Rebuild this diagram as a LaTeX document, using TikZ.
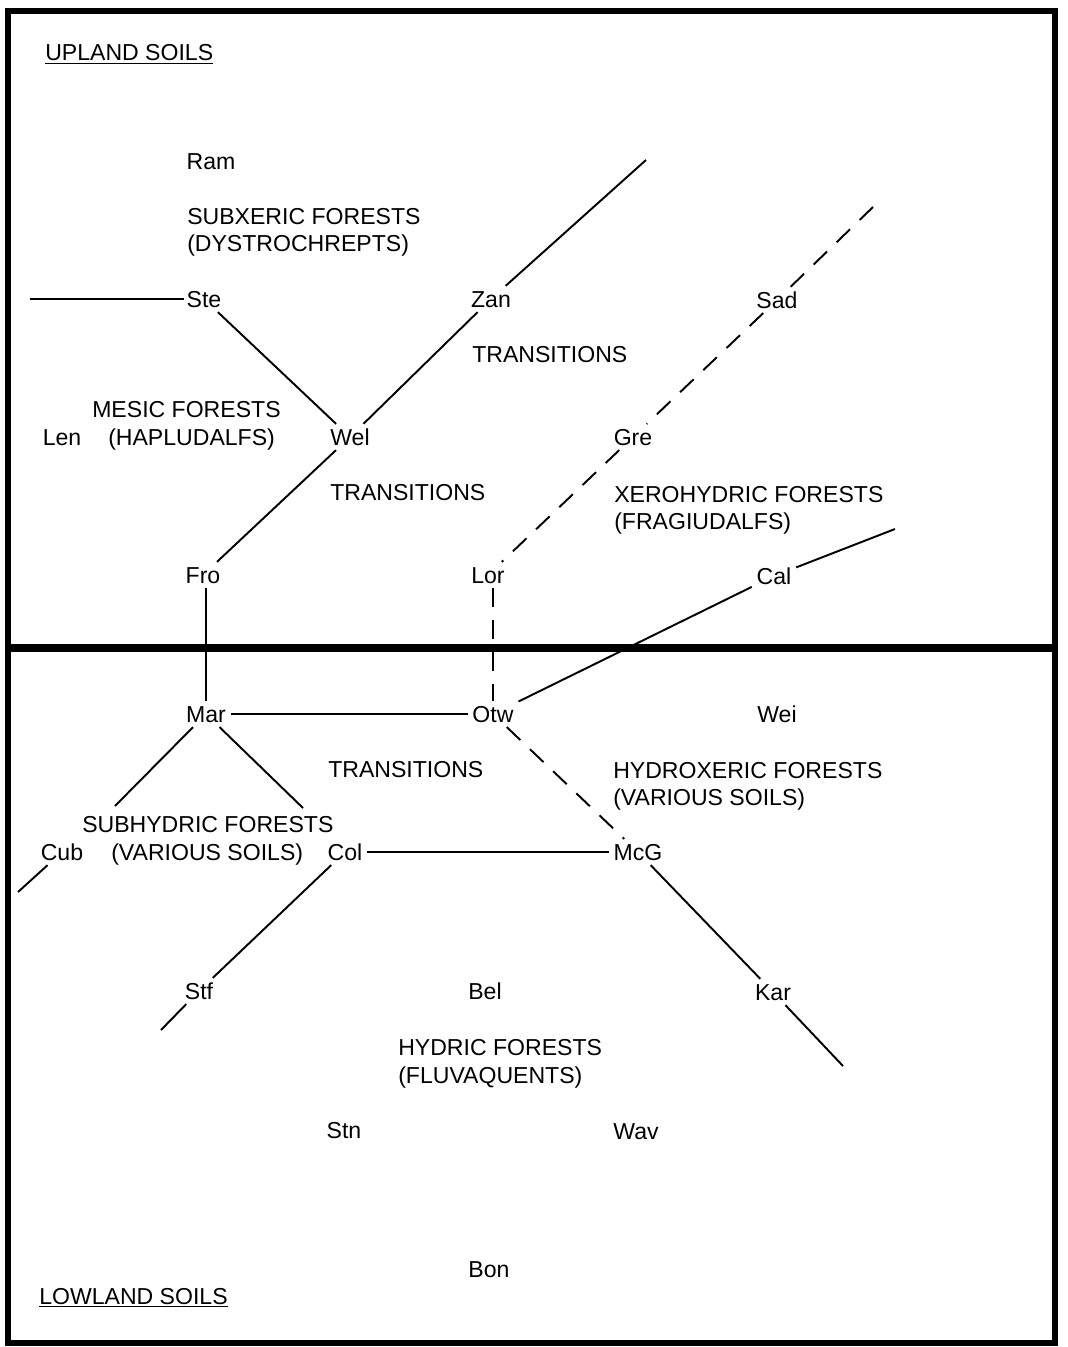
\documentclass[tikz,border=0pt]{standalone}
\usepackage{fontspec}
\setmainfont{Liberation Sans}
\begin{document}
\begin{tikzpicture}[x=0.75pt,y=-0.75pt,
  every node/.style={font=\fontsize{17.3}{20}\selectfont, text height=12.3pt, text depth=0pt},
  site/.style={inner sep=3.5pt},
  txt/.style={inner sep=0pt, anchor=west},
  link/.style={line width=1.45pt},
  dlink/.style={line width=1.45pt, dash pattern=on 14pt off 10pt},
  frame/.style={line width=4.2pt},
  divider/.style={line width=6.5pt}]
\useasboundingbox (0,0) rectangle (1068,1347);
% frame
\draw[frame] (8,11) rectangle (1055,1343);
\draw[divider] (8,648) -- (1055,648);
% headings
\node[txt] (upland) at (45,52.5) {\underline{UPLAND SOILS}};
\node[txt] (lowland) at (39,1296) {\underline{LOWLAND SOILS}};
% forest type texts
\node[txt] (subx1) at (187,216) {SUBXERIC FORESTS};
\node[txt] (subx2) at (187,243) {(DYSTROCHREPTS)};
\node[txt] (tr1) at (472,354) {TRANSITIONS};
\node[txt] (mes1) at (92,409) {MESIC FORESTS};
\node[txt] (mes2) at (108,437) {(HAPLUDALFS)};
\node[txt] (tr2) at (330,492) {TRANSITIONS};
\node[txt] (xer1) at (614,494) {XEROHYDRIC FORESTS};
\node[txt] (xer2) at (614,521) {(FRAGIUDALFS)};
\node[txt] (tr3) at (328,769) {TRANSITIONS};
\node[txt] (hyx1) at (613,770) {HYDROXERIC FORESTS};
\node[txt] (hyx2) at (613,797) {(VARIOUS SOILS)};
\node[txt] (subh1) at (82,824) {SUBHYDRIC FORESTS};
\node[txt] (subh2) at (111,852) {(VARIOUS SOILS)};
\node[txt] (hyd1) at (398,1047) {HYDRIC FORESTS};
\node[txt] (hyd2) at (398,1075) {(FLUVAQUENTS)};
% sites
\node[site] (Ram) at (211,161) {Ram};
\node[site] (Ste) at (204,299) {Ste};
\node[site] (Zan) at (491,299) {Zan};
\node[site] (Sad) at (777,300) {Sad};
\node[site] (Len) at (62,437) {Len};
\node[site] (Wel) at (350,437) {Wel};
\node[site] (Gre) at (633,437) {Gre};
\node[site] (Fro) at (203,575) {Fro};
\node[site] (Lor) at (488,575) {Lor};
\node[site] (Cal) at (774,576) {Cal};
\node[site] (Mar) at (206,714) {Mar};
\node[site] (Otw) at (493,714) {Otw};
\node[site] (Wei) at (777,714) {Wei};
\node[site] (Cub) at (62,852) {Cub};
\node[site] (Col) at (345,852) {Col};
\node[site] (McG) at (638,852) {McG};
\node[site] (Stf) at (199,991) {Stf};
\node[site] (Bel) at (485,991) {Bel};
\node[site] (Kar) at (773,992) {Kar};
\node[site] (Stn) at (344,1130) {Stn};
\node[site] (Wav) at (636,1131) {Wav};
\node[site] (Bon) at (489,1269) {Bon};
% free ends
\coordinate (steend) at (30,299);
\coordinate (zanend) at (646,160);
\coordinate (sadend) at (873,207);
\coordinate (calend) at (895,529);
\coordinate (marl) at (115,806);
\coordinate (marr) at (303,808);
\coordinate (cubend) at (18,892);
\coordinate (stfend) at (161,1030);
\coordinate (karend) at (843,1066);
% connectors
\draw[link, shorten >=-2pt] (steend) -- (Ste);
\draw[link] (Ste) -- (Wel);
\draw[link] (Fro) -- (Wel);
\draw[link] (Wel) -- (Zan);
\draw[link] (Zan) -- (zanend);
\draw[dlink] (sadend) -- (Sad);
\draw[dlink] (Sad) -- (Gre);
\draw[dlink] (Gre) -- (Lor);
\draw[dlink] (Otw.north |- Lor.south) -- (Otw.north);
\draw[link] (Mar.north |- Fro.south) -- (Mar.north);
\draw[link] (calend) -- (Cal);
\draw[link] (Cal) -- (Otw);
\draw[link] (Mar) -- (Otw);
\draw[link] (Mar) -- (marl);
\draw[link] (Mar) -- (marr);
\draw[link] (Cub) -- (cubend);
\draw[dlink] (Otw) -- (McG);
\draw[link] (Col) -- (McG);
\draw[link] (Col) -- (Stf);
\draw[link] (Stf) -- (stfend);
\draw[link] (McG) -- (Kar);
\draw[link] (Kar) -- (karend);
\end{tikzpicture}
\end{document}
